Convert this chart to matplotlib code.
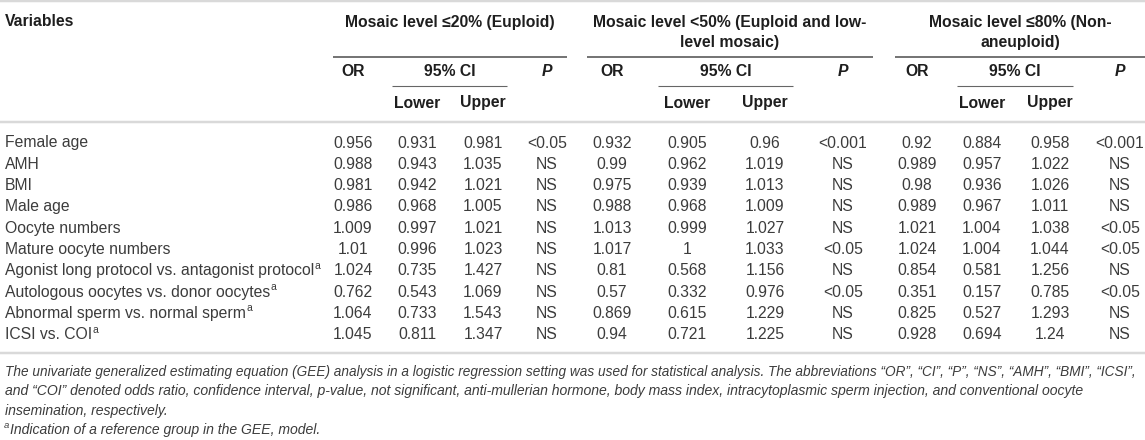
import matplotlib
matplotlib.use("Agg")
import matplotlib.pyplot as plt
from matplotlib import font_manager

variables = [
    "Female age", "AMH", "BMI", "Male age", "Oocyte numbers",
    "Mature oocyte numbers",
    "Agonist long protocol vs. antagonist protocol",
    "Autologous oocytes vs. donor oocytes",
    "Abnormal sperm vs. normal sperm",
    "ICSI vs. COI",
]
has_mark = [False, False, False, False, False, False, True, True, True, True]

groups = ["Mosaic level \u226420% (Euploid)",
          "Mosaic level <50% (Euploid and low-\nlevel mosaic)",
          "Mosaic level \u226480% (Non-\naneuploid)"]

or_20 = ["0.956", "0.988", "0.981", "0.986", "1.009", "1.01", "1.024", "0.762", "1.064", "1.045"]
lo_20 = ["0.931", "0.943", "0.942", "0.968", "0.997", "0.996", "0.735", "0.543", "0.733", "0.811"]
up_20 = ["0.981", "1.035", "1.021", "1.005", "1.021", "1.023", "1.427", "1.069", "1.543", "1.347"]
p_20 = ["<0.05", "NS", "NS", "NS", "NS", "NS", "NS", "NS", "NS", "NS"]

or_50 = ["0.932", "0.99", "0.975", "0.988", "1.013", "1.017", "0.81", "0.57", "0.869", "0.94"]
lo_50 = ["0.905", "0.962", "0.939", "0.968", "0.999", "1", "0.568", "0.332", "0.615", "0.721"]
up_50 = ["0.96", "1.019", "1.013", "1.009", "1.027", "1.033", "1.156", "0.976", "1.229", "1.225"]
p_50 = ["<0.001", "NS", "NS", "NS", "NS", "<0.05", "NS", "<0.05", "NS", "NS"]

or_80 = ["0.92", "0.989", "0.98", "0.989", "1.021", "1.024", "0.854", "0.351", "0.825", "0.928"]
lo_80 = ["0.884", "0.957", "0.936", "0.967", "1.004", "1.004", "0.581", "0.157", "0.527", "0.694"]
up_80 = ["0.958", "1.022", "1.026", "1.011", "1.038", "1.044", "1.256", "0.785", "1.293", "1.24"]
p_80 = ["<0.001", "NS", "NS", "NS", "<0.05", "<0.05", "NS", "<0.05", "NS", "NS"]

notes = [
    "The univariate generalized estimating equation (GEE) analysis in a logistic regression setting was used for statistical analysis. "
    "The abbreviations \u201cOR\u201d, \u201cCI\u201d, \u201cP\u201d, \u201cNS\u201d, \u201cAMH\u201d, \u201cBMI\u201d, \u201cICSI\u201d,",
    "and \u201cCOI\u201d denoted odds ratio, confidence interval, p-value, not significant, anti-mullerian hormone, body mass index, "
    "intracytoplasmic sperm injection, and conventional oocyte",
    "insemination, respectively.",
    "Indication of a reference group in the GEE, model.",
]

names = {f.name for f in font_manager.fontManager.ttflist}
FONT = "Liberation Sans"
NARROW = "Liberation Sans Narrow" if "Liberation Sans Narrow" in names else FONT
plt.rcParams["font.family"] = [FONT, "DejaVu Sans"]

W, H = 1145, 440
fig = plt.figure(figsize=(W / 100, H / 100), dpi=100)
ax = fig.add_axes([0, 0, 1, 1])
ax.set_xlim(0, W)
ax.set_ylim(H, 0)
ax.axis("off")
fig.canvas.draw()
renderer = fig.canvas.get_renderer()

body_c = "#3c3c3c"
head_c = "#1e1e1e"
rule_c = "#d9d9d9"
fs = 11.3
hfs = 11.3
nfs = 10.1


def px(w):
    return w * 0.72


def hline(x0, x1, y, lw, c):
    ax.plot([x0, x1], [y, y], color=c, lw=px(lw), solid_capstyle="butt")


# rules
hline(0, W, 1.5, 2.5, rule_c)
hline(0, W, 122, 2.5, rule_c)
hline(0, W, 353, 2.5, rule_c)

# group spans and column centers
spans = [(333, 567), (587, 873), (895, W)]
cols = [(353, 417, 483, 547), (612, 687, 765, 843), (917, 982, 1050, 1120)]
ci_spans = [(392, 507), (658, 793), (957, 1073)]
data = [(or_20, lo_20, up_20, p_20), (or_50, lo_50, up_50, p_50), (or_80, lo_80, up_80, p_80)]

ax.text(5, 22, "Variables", fontsize=hfs, fontweight="bold", color=head_c, va="center", ha="left")

for g, title in enumerate(groups):
    x0, x1 = spans[g]
    cx = (x0 + x1) / 2
    for k, line in enumerate(title.split("\n")):
        ax.text(cx, 22 + 21 * k, line, fontsize=hfs, fontweight="bold", color=head_c,
                ha="center", va="center")
    hline(x0, x1, 57, 1.6, "#555555")
    c_or, c_lo, c_up, c_p = cols[g]
    ax.text(c_or, 72, "OR", fontsize=hfs, fontweight="bold", color=head_c, ha="center", va="center")
    ax.text((ci_spans[g][0] + ci_spans[g][1]) / 2, 72, "95% CI", fontsize=hfs, fontweight="bold",
            color=head_c, ha="center", va="center")
    ax.text(c_p, 72, "P", fontsize=hfs, fontweight="bold", style="italic", color=head_c,
            ha="center", va="center")
    hline(ci_spans[g][0], ci_spans[g][1], 86, 1.1, "#666666")
    ax.text(c_lo, 103, "Lower", fontsize=hfs, fontweight="bold", color=head_c, ha="center", va="center")
    ax.text(c_up, 103, "Upper", fontsize=hfs, fontweight="bold", color=head_c, ha="center", va="center")

row_y0, row_dy = 143, 21.3
for i, name in enumerate(variables):
    y = row_y0 + i * row_dy
    t = ax.text(5, y, name, fontsize=fs, color=body_c, ha="left", va="center")
    if has_mark[i]:
        bb = t.get_window_extent(renderer)
        ax.text(bb.x1 + 0.5, y - 5, "a", fontsize=7.5, color=body_c, ha="left", va="center")
    for g in range(3):
        for c, series in zip(cols[g], data[g]):
            ax.text(c, y, series[i], fontsize=fs, color=body_c, ha="center", va="center")

# footnotes
note_y = [372, 391, 411, 430]
t0 = ax.text(5, note_y[0], notes[0], fontsize=10.6, style="italic", family=[NARROW, "DejaVu Sans"],
             color=body_c, ha="left", va="center")
w0 = t0.get_window_extent(renderer).width
target = 1130
if w0 > target:
    t0.set_fontsize(10.6 * target / w0)
for k in (1, 2):
    ax.text(5, note_y[k], notes[k], fontsize=nfs, style="italic", color=body_c, ha="left", va="center")
ax.text(4, note_y[3] - 4, "a", fontsize=6.8, style="italic", color=body_c, ha="left", va="center")
ax.text(10, note_y[3], notes[3], fontsize=nfs, style="italic", color=body_c, ha="left", va="center")

fig.savefig("out.png", dpi=100)
